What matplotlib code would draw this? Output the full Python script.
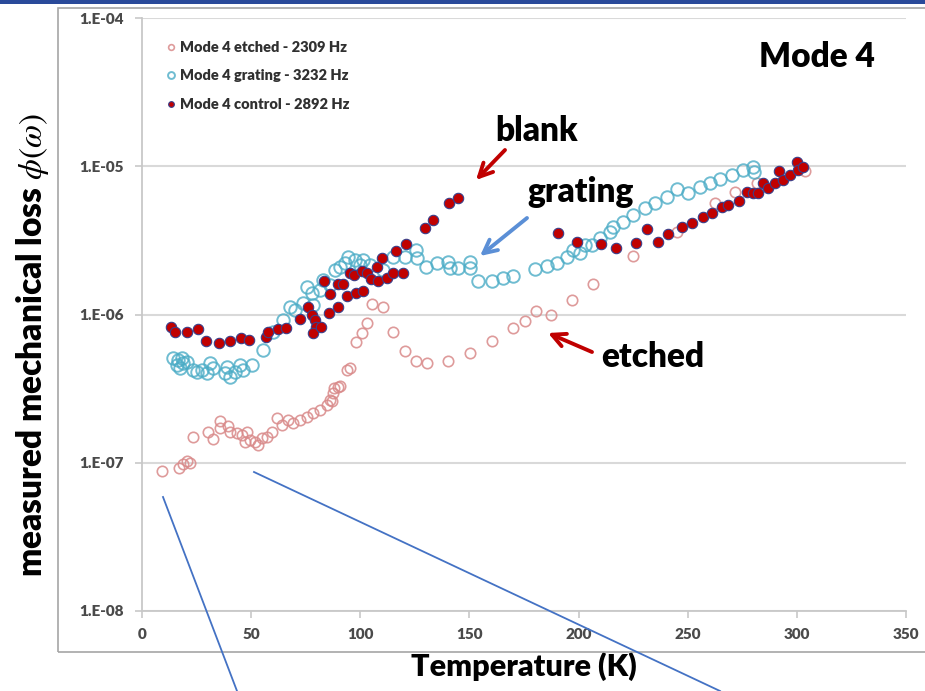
import matplotlib
matplotlib.use("Agg")
import matplotlib.pyplot as plt
from matplotlib.lines import Line2D
from matplotlib.patches import Rectangle
import numpy as np

plt.rcParams['font.family'] = ['Lato', 'DejaVu Sans']
plt.rcParams['mathtext.fontset'] = 'stix'

# ---- data: temperature (K) and measured loss ----
etched_T = [9.0, 17.1, 18.6, 20.5, 22.0, 23.5, 30.4, 32.4, 35.7, 35.7, 39.5, 40.3, 43.4, 45.7,
            48.0, 47.2, 49.5, 51.8, 53.3, 54.8, 57.1, 59.4, 61.7, 64.0, 67.0, 69.3, 72.4, 75.4,
            78.5, 81.5, 84.6, 86.9, 86.1, 87.6, 90.7, 88.0, 89.9, 93.8, 95.3, 98.0, 100.6, 103.2,
            105.2, 110.3, 115.1, 120.5, 125.3, 130.4, 140.3, 150.3, 160.2, 170.1, 175.4, 180.5,
            187.2, 196.8, 206.5, 225.1, 244.9, 262.5, 271.6, 281.6, 303.7]
etched_phi = [8.73e-8, 9.20e-8, 9.84e-8, 1.02e-7, 1.00e-7, 1.50e-7, 1.62e-7, 1.44e-7, 1.90e-7,
              1.71e-7, 1.77e-7, 1.62e-7, 1.58e-7, 1.54e-7, 1.62e-7, 1.39e-7, 1.43e-7, 1.39e-7,
              1.32e-7, 1.47e-7, 1.50e-7, 1.62e-7, 2.00e-7, 1.80e-7, 1.95e-7, 1.85e-7, 1.95e-7,
              2.05e-7, 2.16e-7, 2.27e-7, 2.46e-7, 2.59e-7, 2.65e-7, 2.95e-7, 3.27e-7, 3.19e-7,
              3.23e-7, 4.23e-7, 4.35e-7, 6.56e-7, 7.48e-7, 8.74e-7, 1.18e-6, 1.12e-6, 7.67e-7,
              5.70e-7, 4.89e-7, 4.70e-7, 4.87e-7, 5.48e-7, 6.64e-7, 8.09e-7, 9.10e-7, 1.06e-6,
              9.94e-7, 1.25e-6, 1.60e-6, 2.48e-6, 3.62e-6, 5.63e-6, 6.74e-6, 7.68e-6, 9.33e-6]

grating_T = [14.3, 16.6, 18.2, 15.9, 18.9, 17.4, 20.5, 23.5, 25.1, 27.3, 29.6, 31.1, 32.7, 38.0,
             38.8, 40.3, 42.6, 44.9, 46.4, 50.3, 55.3, 60.1, 64.7, 67.8, 70.1, 73.9, 75.4, 77.7,
             78.5, 81.5, 83.1, 86.1, 88.4, 90.7, 93.0, 94.5, 97.6, 99.9, 101.4, 104.4, 110.5,
             115.1, 120.5, 125.5, 125.8, 130.0, 135.0, 140.3, 141.1, 144.9, 150.3, 150.3, 154.1,
             160.2, 165.5, 170.1, 180.0, 185.4, 190.0, 194.5, 197.6, 200.6, 202.9, 206.0, 209.8,
             214.4, 215.9, 220.5, 225.1, 230.4, 235.0, 240.4, 244.9, 250.3, 255.6, 260.2, 264.8,
             270.1, 275.4, 280.0, 280.3]
grating_phi = [5.07e-7, 4.94e-7, 5.07e-7, 4.57e-7, 4.70e-7, 4.35e-7, 4.81e-7, 4.23e-7, 4.12e-7,
               4.23e-7, 4.06e-7, 4.70e-7, 4.35e-7, 4.06e-7, 4.45e-7, 3.81e-7, 4.12e-7, 4.57e-7,
               4.23e-7, 4.57e-7, 5.77e-7, 7.67e-7, 9.20e-7, 1.13e-6, 1.07e-6, 1.19e-6, 1.53e-6,
               1.39e-6, 1.16e-6, 1.47e-6, 1.71e-6, 1.58e-6, 2.00e-6, 2.10e-6, 2.22e-6, 2.46e-6,
               2.33e-6, 2.16e-6, 2.33e-6, 2.16e-6, 2.00e-6, 2.46e-6, 2.46e-6, 2.73e-6, 2.40e-6,
               2.10e-6, 2.22e-6, 2.27e-6, 2.05e-6, 2.05e-6, 2.27e-6, 2.05e-6, 1.67e-6, 1.67e-6,
               1.76e-6, 1.82e-6, 2.02e-6, 2.13e-6, 2.22e-6, 2.46e-6, 2.73e-6, 2.59e-6, 2.95e-6,
               2.95e-6, 3.27e-6, 3.62e-6, 3.88e-6, 4.23e-6, 4.69e-6, 5.21e-6, 5.63e-6, 6.24e-6,
               7.00e-6, 6.58e-6, 7.28e-6, 7.68e-6, 8.17e-6, 8.74e-6, 9.44e-6, 9.94e-6, 9.20e-6]

control_T = [13.1, 15.1, 20.5, 25.5, 29.3, 35.3, 40.3, 45.4, 48.9, 56.8, 57.6, 62.2, 66.0, 72.4,
             76.2, 77.7, 79.3, 79.7, 78.5, 81.9, 83.5, 85.8, 86.1, 89.9, 89.9, 91.9, 94.0, 95.3,
             97.9, 97.1, 101.4, 100.6, 102.9, 104.8, 107.5, 108.3, 110.1, 112.1, 115.1, 116.2,
             119.4, 120.9, 129.5, 133.2, 140.6, 144.6, 190.6, 199.4, 210.3, 217.1, 226.2, 231.5,
             236.5, 241.1, 247.2, 251.8, 257.1, 261.0, 265.6, 268.6, 273.5, 277.0, 280.0, 282.3,
             284.6, 286.9, 290.0, 291.9, 293.7, 296.8, 299.9, 300.6, 302.9]
control_phi = [8.29e-7, 7.67e-7, 7.67e-7, 7.96e-7, 6.67e-7, 6.47e-7, 6.64e-7, 6.92e-7, 6.74e-7,
               7.03e-7, 7.67e-7, 7.96e-7, 8.09e-7, 9.29e-7, 1.13e-6, 9.94e-7, 9.20e-7, 8.29e-7,
               7.48e-7, 8.21e-7, 1.67e-6, 1.02e-6, 1.38e-6, 1.13e-6, 1.61e-6, 1.61e-6, 1.34e-6,
               1.90e-6, 1.39e-6, 1.85e-6, 1.44e-6, 1.98e-6, 1.92e-6, 1.73e-6, 2.08e-6, 1.69e-6,
               2.40e-6, 1.75e-6, 1.92e-6, 2.69e-6, 1.90e-6, 2.99e-6, 3.86e-6, 4.35e-6, 5.69e-6,
               6.08e-6, 3.53e-6, 3.10e-6, 2.99e-6, 2.83e-6, 3.03e-6, 3.78e-6, 3.09e-6, 3.48e-6,
               3.88e-6, 4.17e-6, 4.57e-6, 4.86e-6, 5.29e-6, 5.48e-6, 5.86e-6, 6.71e-6, 6.64e-6,
               6.58e-6, 7.68e-6, 7.11e-6, 7.68e-6, 9.33e-6, 8.09e-6, 8.74e-6, 1.07e-5, 9.44e-6,
               9.94e-6]

x_ticks = [0, 50, 100, 150, 200, 250, 300, 350]
y_ticks = [1e-8, 1e-7, 1e-6, 1e-5, 1e-4]
y_ticklabels = ['1.E-08', '1.E-07', '1.E-06', '1.E-05', '1.E-04']

W, H = 925, 691
fig = plt.figure(figsize=(W / 100, H / 100), dpi=100)
fig.patch.set_facecolor('white')

def fx(px):
    return px / W

def fy(py):
    return 1 - py / H

# outer chart frame and header band
fig.add_artist(Rectangle((fx(58), fy(652)), fx(925) - fx(58) + 0.01, fy(8) - fy(652),
                         transform=fig.transFigure, fill=False, edgecolor='#a6a6a6', lw=1.2))
fig.add_artist(Rectangle((0, fy(4)), 1, fy(0) - fy(4), transform=fig.transFigure,
                         facecolor='#2a4a9a', edgecolor='none'))

ax = fig.add_axes([fx(142), fy(611), fx(906) - fx(142), fy(18) - fy(611)])
ax.set_yscale('log')
ax.set_xlim(0, 350)
ax.set_ylim(1e-8, 1e-4)

for s in ['top', 'right']:
    ax.spines[s].set_visible(False)
for s in ['left', 'bottom']:
    ax.spines[s].set_color('#c8c8c8')
    ax.spines[s].set_linewidth(1.3)

ax.yaxis.grid(True, which='major', color='#d9d9d9', lw=1.5)
ax.set_axisbelow(True)
ax.set_xticks(x_ticks)
ax.set_xticklabels([str(t) for t in x_ticks])
ax.set_yticks(y_ticks)
ax.set_yticklabels(y_ticklabels)
ax.yaxis.set_minor_locator(matplotlib.ticker.NullLocator())
ax.tick_params(axis='both', colors='#c8c8c8', labelcolor='#4a4a4a', length=5, width=1.2,
               labelsize=11)
ax.tick_params(axis='x', pad=7)
ax.tick_params(axis='y', pad=8)
for lab in ax.get_xticklabels() + ax.get_yticklabels():
    lab.set_fontweight('heavy')

ax.plot(etched_T, etched_phi, 'o', ls='none', ms=7.5, mfc='none', mec='#d98a8a', mew=1.2,
        alpha=0.85, label='Mode 4 etched - 2309 Hz')
ax.plot(grating_T, grating_phi, 'o', ls='none', ms=9, mfc='none', mec='#4bacc6', mew=1.4,
        alpha=0.8, label='Mode 4 grating - 3232 Hz')
ax.plot(control_T, control_phi, 'o', ls='none', ms=7.5, mfc='#c00000', mec='#3a3f8a', mew=0.8,
        label='Mode 4 control - 2892 Hz')

leg = ax.legend(loc='upper left', bbox_to_anchor=(fx(153), fy(28)), bbox_transform=fig.transFigure,
                frameon=False, markerscale=0.55, handlelength=0.6, handletextpad=0.35,
                labelspacing=1.05, prop={'weight': 'heavy', 'size': 10.5})
for t in leg.get_texts():
    t.set_color('#303030')

ax.set_ylabel(r'measured mechanical loss $\phi(\omega)$', fontsize=24, fontweight='heavy')
ax.yaxis.set_label_coords(-(142 - 51) / (906 - 142), (611 - 345) / (611 - 18))
ax.set_xlabel('Temperature (K)', fontsize=22, fontweight='heavy', labelpad=8)

ax.text(fx(817), fy(57), 'Mode 4', transform=fig.transFigure, fontsize=24, fontweight='heavy',
        ha='center', va='center')
ax.text(fx(537), fy(131), 'blank', transform=fig.transFigure, fontsize=24, fontweight='heavy',
        ha='center', va='center')
ax.text(fx(581), fy(192), 'grating', transform=fig.transFigure, fontsize=24, fontweight='heavy',
        ha='center', va='center')
ax.text(fx(653), fy(357), 'etched', transform=fig.transFigure, fontsize=24, fontweight='heavy',
        ha='center', va='center')

def arrow(x0, y0, x1, y1, color):
    ax.annotate('', xy=(fx(x1), fy(y1)), xytext=(fx(x0), fy(y0)),
                xycoords='figure fraction', textcoords='figure fraction',
                arrowprops=dict(arrowstyle='->', color=color, lw=2.8, mutation_scale=24,
                                shrinkA=0, shrinkB=0))

arrow(505, 150, 476, 180, '#c00000')
arrow(527, 218, 480, 256, '#5b8fd6')
arrow(592, 352, 548, 333, '#c00000')

# callout lines
for (x0, y0, x1, y1) in [(163, 497, 237, 691), (254, 472, 720, 691)]:
    fig.add_artist(Line2D([fx(x0), fx(x1)], [fy(y0), fy(y1)], transform=fig.transFigure,
                          color='#4472c4', lw=1.3))

fig.savefig('out.png', dpi=100)
